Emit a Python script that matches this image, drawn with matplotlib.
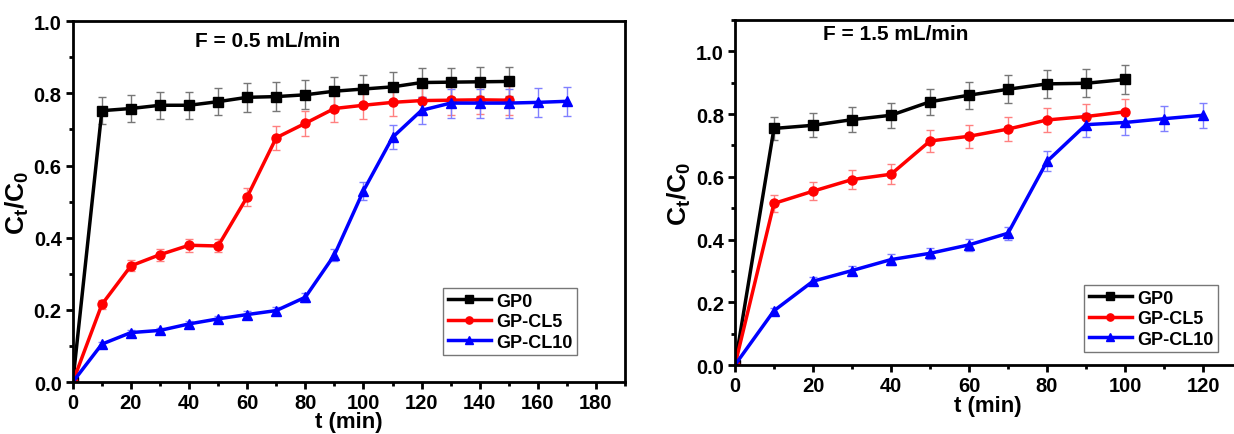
import numpy as np
import matplotlib
matplotlib.use("Agg")
import matplotlib.pyplot as plt
from matplotlib import rcParams
from matplotlib.ticker import MultipleLocator

rcParams['font.family'] = ['Liberation Sans', 'DejaVu Sans']
rcParams['font.weight'] = 'bold'
rcParams['mathtext.fontset'] = 'custom'
rcParams['mathtext.bf'] = 'Liberation Sans:bold'
rcParams['mathtext.rm'] = 'Liberation Sans:bold'
rcParams['mathtext.default'] = 'bf'
rcParams['axes.linewidth'] = 2.0

# ---- F = 0.5 mL/min ----
t_a_gp0 = [0, 10, 20, 30, 40, 50, 60, 70, 80, 90, 100, 110, 120, 130, 140, 150]
a_gp0 = [0, 0.752, 0.758, 0.767, 0.767, 0.777, 0.789, 0.791, 0.796, 0.806, 0.812, 0.818, 0.830, 0.831, 0.832, 0.833]
a_gp0_err = [0, 0.038, 0.038, 0.038, 0.038, 0.038, 0.04, 0.04, 0.04, 0.04, 0.04, 0.04, 0.04, 0.04, 0.04, 0.04]

t_a_cl5 = [0, 10, 20, 30, 40, 50, 60, 70, 80, 90, 100, 110, 120, 130, 140, 150]
a_cl5 = [0, 0.215, 0.322, 0.353, 0.379, 0.377, 0.513, 0.677, 0.717, 0.758, 0.767, 0.775, 0.780, 0.781, 0.782, 0.781]
a_cl5_err = [0, 0.012, 0.015, 0.017, 0.018, 0.018, 0.025, 0.033, 0.035, 0.038, 0.038, 0.038, 0.04, 0.04, 0.04, 0.04]

t_a_cl10 = [0, 10, 20, 30, 40, 50, 60, 70, 80, 90, 100, 110, 120, 130, 140, 150, 160, 170]
a_cl10 = [0, 0.105, 0.137, 0.143, 0.161, 0.175, 0.187, 0.198, 0.235, 0.352, 0.530, 0.678, 0.753, 0.773, 0.773, 0.773, 0.775, 0.778]
a_cl10_err = [0, 0.006, 0.008, 0.008, 0.008, 0.009, 0.009, 0.01, 0.012, 0.018, 0.025, 0.033, 0.038, 0.04, 0.04, 0.04, 0.04, 0.04]

# ---- F = 1.5 mL/min ----
t_b_gp0 = [0, 10, 20, 30, 40, 50, 60, 70, 80, 90, 100]
b_gp0 = [0, 0.754, 0.764, 0.782, 0.796, 0.839, 0.860, 0.879, 0.896, 0.898, 0.910]
b_gp0_err = [0, 0.038, 0.038, 0.04, 0.04, 0.042, 0.043, 0.044, 0.045, 0.045, 0.045]

t_b_cl5 = [0, 10, 20, 30, 40, 50, 60, 70, 80, 90, 100]
b_cl5 = [0, 0.515, 0.554, 0.591, 0.608, 0.714, 0.729, 0.752, 0.781, 0.792, 0.807]
b_cl5_err = [0, 0.026, 0.028, 0.03, 0.032, 0.035, 0.036, 0.038, 0.039, 0.04, 0.04]

t_b_cl10 = [0, 10, 20, 30, 40, 50, 60, 70, 80, 90, 100, 110, 120]
b_cl10 = [0, 0.173, 0.267, 0.301, 0.336, 0.356, 0.383, 0.420, 0.649, 0.766, 0.773, 0.785, 0.796]
b_cl10_err = [0, 0.009, 0.013, 0.015, 0.017, 0.018, 0.019, 0.021, 0.032, 0.038, 0.039, 0.039, 0.04]

labels = ['GP0', 'GP-CL5', 'GP-CL10']
colors = ['black', 'red', 'blue']
ecolors = ['#777777', '#ff8080', '#8080ff']
markers = ['s', 'o', '^']

fig = plt.figure(figsize=(12.34, 4.35), dpi=100)
ax1 = fig.add_axes([0.059, 0.1195, 0.4475, 0.8295])
ax2 = fig.add_axes([0.5956, 0.1586, 0.4100, 0.7934])

panels = [
    (ax1, [(t_a_gp0, a_gp0, a_gp0_err), (t_a_cl5, a_cl5, a_cl5_err), (t_a_cl10, a_cl10, a_cl10_err)],
     (0, 190), (0, 1.0), 'F = 0.5 mL/min', (42, 0.947), [443, 289, 580], -0.5),
    (ax2, [(t_b_gp0, b_gp0, b_gp0_err), (t_b_cl5, b_cl5, b_cl5_err), (t_b_cl10, b_cl10, b_cl10_err)],
     (0, 129.7), (0, 1.1), 'F = 1.5 mL/min', (22.5, 1.056), [1084, 286, 1213], 0),
]

for ax, series, xl, yl, title, tpos, lbox, xpad in panels:
    handles = []
    for (t, y, e), lab, c, ec, m in zip(series, labels, colors, ecolors, markers):
        cont = ax.errorbar(t, y, yerr=e, color=c, ecolor=ec, elinewidth=1.0, capsize=3,
                           capthick=1.0, marker=m, markersize=6.5, lw=2.5, label=lab)
        handles.append(cont[0])
    ax.set_xlim(*xl)
    ax.set_ylim(*yl)
    ax.xaxis.set_major_locator(MultipleLocator(20))
    ax.xaxis.set_minor_locator(MultipleLocator(10))
    ax.yaxis.set_major_locator(MultipleLocator(0.2))
    ax.yaxis.set_minor_locator(MultipleLocator(0.1))
    ax.yaxis.set_major_formatter(plt.FormatStrFormatter('%.1f'))
    ax.tick_params(which='major', direction='out', length=5, width=2, labelsize=14.5, pad=3)
    ax.tick_params(which='minor', direction='out', length=3, width=2)
    for lbl in ax.get_xticklabels() + ax.get_yticklabels():
        lbl.set_fontweight('bold')
    ax.set_xlabel('t (min)', fontsize=16, fontweight='bold', labelpad=xpad)
    ax.set_ylabel(r'$C_t/C_0$', fontsize=19, labelpad=2)
    ax.text(tpos[0], tpos[1], title, fontsize=15, fontweight='bold', va='center')
    # legend box position in pixels -> figure fraction (upper-left corner)
    leg = ax.legend(handles, labels, loc='upper left',
                    bbox_to_anchor=(lbox[0] / 1234, 1 - lbox[1] / 435),
                    bbox_transform=fig.transFigure, fontsize=13, frameon=True,
                    fancybox=False, edgecolor='#555555', handlelength=2.4,
                    borderpad=0.25, labelspacing=0.2, handletextpad=0.3,
                    borderaxespad=0, markerscale=0.8)
    leg.get_frame().set_linewidth(1.0)

fig.savefig('out.png', dpi=100)
